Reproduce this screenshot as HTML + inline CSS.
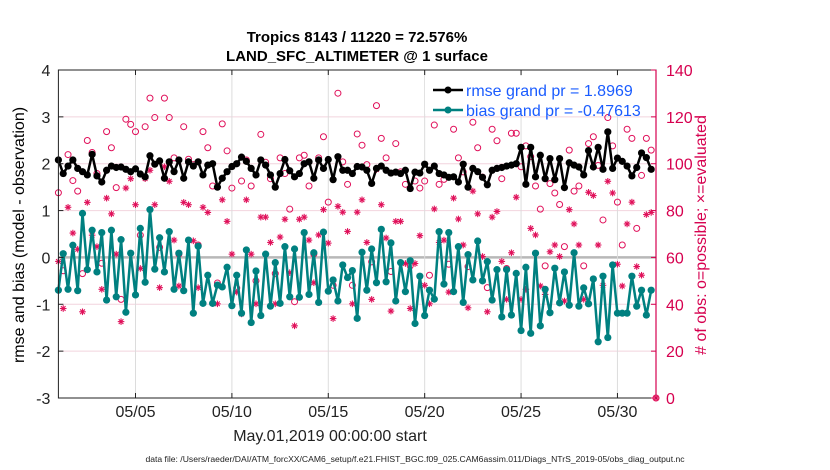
<!DOCTYPE html>
<html><head><meta charset="utf-8"><style>
body{margin:0;background:#fff;}
svg{display:block;font-family:"Liberation Sans",sans-serif;}
</style></head><body>
<svg id="chart" width="830" height="470" viewBox="0 0 830 470">
<rect x="0" y="0" width="830" height="470" fill="#fff"/>
<text x="357" y="42" text-anchor="middle" font-size="15" font-weight="bold">Tropics 8143 / 11220 = 72.576%</text>
<text x="357" y="61" text-anchor="middle" font-size="15" font-weight="bold">LAND_SFC_ALTIMETER @ 1 surface</text>
<text transform="translate(24,235) rotate(-90)" text-anchor="middle" font-size="16">rmse and bias (model - observation)</text>
<text transform="translate(706,235) rotate(-90)" text-anchor="middle" font-size="16" fill="#d6004f"># of obs: o=possible; ×=evaluated</text>
<text x="330" y="441" text-anchor="middle" font-size="16" fill="#222">May.01,2019 00:00:00 start</text>
<text x="415" y="462" text-anchor="middle" font-size="8.6" fill="#222">data file: /Users/raeder/DAI/ATM_forcXX/CAM6_setup/f.e21.FHIST_BGC.f09_025.CAM6assim.011/Diags_NTrS_2019-05/obs_diag_output.nc</text>
<g id="grid"></g>
<g id="obs"></g>
<g id="series"></g>
<g id="axes"></g>
<g>
<rect x="425" y="76" width="228" height="38" fill="#fff"/>
<g>
<line x1="433" y1="90" x2="463" y2="90" stroke="#000" stroke-width="2.5"/><circle cx="448" cy="90" r="3.5" fill="#000"/>
<text x="466" y="96" font-size="16" fill="#1a5cff">rmse grand pr = 1.8969</text></g>
<g>
<line x1="433" y1="110" x2="463" y2="110" stroke="#008080" stroke-width="2.5"/><circle cx="448" cy="110" r="3.5" fill="#008080"/>
<text x="466" y="116" font-size="16" fill="#1a5cff">bias grand pr = -0.47613</text></g>
</g>
</svg>
<script>
const rmse=[2.08,1.79,1.95,2.08,1.9,1.83,1.76,2.2,1.74,1.61,1.86,1.95,1.92,1.93,1.88,1.83,1.89,1.78,1.72,2.17,1.99,2.06,1.69,2.04,1.83,2.08,1.69,2.04,1.95,2.04,1.76,1.97,
2.0,1.5,1.69,1.83,1.94,2.0,2.14,2.05,1.9,1.76,2.08,1.97,1.76,1.5,1.79,2.09,1.85,1.72,1.79,2.0,2.04,1.69,2.08,1.9,2.09,1.66,2.15,1.86,1.86,1.79,1.94,
1.93,1.86,1.58,1.9,1.95,1.86,1.8,1.82,1.79,1.86,1.47,1.82,1.8,1.99,1.86,1.95,1.79,1.76,1.71,1.72,1.61,1.99,1.5,1.9,1.83,1.71,1.55,1.86,1.9,1.92,1.95,
1.97,2.0,2.35,1.56,2.35,1.72,2.18,1.68,2.11,1.66,2.11,1.49,2.02,1.97,1.93,1.76,2.28,1.93,2.35,1.88,2.68,1.9,2.12,2.05,1.95,1.74,1.92,2.23,2.13,1.88];
const bias=[-0.7,0.08,-0.68,0.26,-0.71,0.94,-0.26,0.58,-0.31,0.53,-0.91,0.58,-0.84,0.38,-1.17,0.09,-0.8,0.62,-0.53,1.02,-0.25,0.42,-0.31,0.55,-0.68,0.09,-0.71,0.37,-1.19,0.24,-0.98,-0.38,
-0.98,-0.59,-0.63,-0.21,-1.03,-0.38,-1.19,0.16,-1.39,-0.29,-1.24,0.07,-1.04,-0.11,-0.98,0.23,-0.84,0.18,-0.85,0.53,-0.79,0.1,-0.96,0.54,-0.72,-0.48,-0.93,-0.16,-0.43,-0.28,-1.3,
0.11,-0.7,0.18,-0.54,0.6,-0.52,0.31,-0.93,-0.11,-0.73,-0.07,-1.41,-0.4,-1.24,-0.7,-0.89,0.55,-0.57,0.53,-0.73,0.23,-0.96,0.06,-0.48,0.35,-0.5,-0.09,-0.91,-0.26,-1.27,-0.26,
-1.23,-0.34,-1.56,-0.21,-1.62,0.09,-1.46,-0.68,-1.18,-0.23,-0.97,-0.31,-1.02,0.1,-1.04,-0.65,-0.99,-0.46,-1.8,-0.4,-1.71,-0.16,-1.19,-1.19,-1.19,-0.4,-1.04,-0.7,-1.23,-0.7];
const possible=[87.6,54.3,103.9,92.8,88.3,53.1,109.9,104.8,95.8,57.5,113.7,106.8,89.8,42.1,119,116.8,113.7,69.5,115.8,128,119.7,64.3,128,119.7,102.5,61.4,115.8,101.9,99.6,65.3,113.7,106.8,
90.5,49.1,117,105.5,89.6,46.9,92.6,101.6,90.5,50,112.5,100.6,93.6,53.1,102.5,95.8,80.6,41.1,102.5,103.6,90.5,61.4,102.5,111.5,83.6,48.1,130.1,100.8,91.2,48.1,112.7,
107.9,99.6,58.1,124.8,110.8,102.5,54,108.6,96.5,91.2,56.4,92.6,89.6,92.6,52.4,116.5,91.2,93.3,57.1,114.7,102.5,96.5,56.1,117.7,106.8,94.3,47.1,114.7,109.8,93.6,55.3,
113,113,98.7,107.6,103,90.5,80.6,56.4,91.5,87.5,82.6,64.6,105.8,88.3,90.5,56.4,108.6,111.5,99.3,76,119.7,107.6,83.6,65.3,114.7,110.8,72.4,95,110.8,105.8,0];
const evaluated=[58.3,38.2,81.4,70.4,63.5,36.8,83.5,69.5,64.6,46.4,85.3,78.6,61.4,32.6,89.6,93.6,82.5,55.3,93.6,97.2,82.5,47.1,98.7,92.5,67.4,47.8,83.5,82.5,67.1,47.1,81.4,79.2,
40.4,40.2,84.6,75.4,61.4,45.2,35.9,84.6,61.4,40.2,77.2,77.2,66.4,40.2,68.7,76.3,53.5,30.8,76.3,77.2,67.4,49.2,69.6,80.4,66.1,33.9,81.8,79.3,71.1,40.2,79.3,
84.6,66.4,42.1,97.5,82.5,68.3,37.1,75.4,75.4,57.4,38.2,57.4,69.3,48.1,40.2,80.7,66.4,67.4,45.2,85.3,76.4,65.3,38.5,88.3,78.6,60.4,36.8,77.2,79.6,58.3,42.1,
62,85.7,42.1,46.4,72.4,69.6,47.8,44.2,62.4,65.3,60.4,41.4,80.4,74.3,65.3,42.1,87.8,86.4,65.3,48.1,92.5,87.5,57.1,47.8,74.3,83.6,56.1,52.4,78.3,79.2,0];
const xTickDays=[4,9,14,19,24,29];
const xTickLabels=["05/05","05/10","05/15","05/20","05/25","05/30"];
const yTicks=[4,3,2,1,0,-1,-2,-3];
const y2Ticks=[140,120,100,80,60,40,20,0];

const L=58.4,R=656,T=70,B=398;
const xS=d=>L+d*(R-L)/31;
const yS=v=>T+(4-v)*(B-T)/7;
const y2S=v=>B-v*(B-T)/140;
const NS="http://www.w3.org/2000/svg";
function mk(tag,attrs,parent){const e=document.createElementNS(NS,tag);for(const k in attrs)e.setAttribute(k,attrs[k]);parent.appendChild(e);return e;}
const grid=document.getElementById('grid'),obs=document.getElementById('obs'),ser=document.getElementById('series'),ax=document.getElementById('axes');

yTicks.forEach(v=>{if(v===4||v===-3)return;
 const l=mk('line',{x1:L,x2:R,y1:yS(v),y2:yS(v),stroke:v===0?'#b8b8b8':'#f2d4de','stroke-width':v===0?2.5:1},grid);
 
 });
xTickDays.forEach((d,i)=>{
 const l=mk('line',{x1:xS(d),x2:xS(d),y1:T,y2:B,stroke:'#dcdcdc','stroke-width':1},grid);
 
 
 const t=mk('text',{x:xS(d),y:417,'text-anchor':'middle','font-size':16,fill:'#222'},ax);t.textContent=xTickLabels[i];
 
 
 mk('line',{x1:xS(d),x2:xS(d),y1:B,y2:B-5,stroke:'#222'},ax);
 mk('line',{x1:xS(d),x2:xS(d),y1:T,y2:T+5,stroke:'#222'},ax);});

function star(cx,cy,p){const g=mk('g',{stroke:'#e0105a','stroke-width':1.1},p);
 for(let a=0;a<4;a++){const an=a*Math.PI/4,r=3.3;mk('line',{x1:cx-r*Math.cos(an),y1:cy-r*Math.sin(an),x2:cx+r*Math.cos(an),y2:cy+r*Math.sin(an)},g);}return g;}
possible.forEach((v,i)=>{const c=mk('circle',{cx:xS(i*0.25),cy:y2S(v),r:3,fill:'none',stroke:'#e0105a','stroke-width':1},obs);
 
 });
evaluated.forEach((v,i)=>{const g=star(xS(i*0.25),y2S(v),obs);
 
 });

function line(arr,color,name){
 const pts=arr.map((v,i)=>xS(i*0.25).toFixed(1)+','+yS(v).toFixed(1)).join(' ');
 const pl=mk('polyline',{points:pts,fill:'none',stroke:color,'stroke-width':2.5,'stroke-linejoin':'round'},ser);
 
 
 arr.forEach((v,i)=>{const c=mk('circle',{cx:xS(i*0.25),cy:yS(v),r:3.6,fill:color},ser);
  
  });}
line(rmse,'#000','rmse');
line(bias,'#008080','bias');

const fr=mk('rect',{x:L,y:T,width:R-L,height:B-T,fill:'none',stroke:'#222','stroke-width':1},ax);


const ra=mk('line',{x1:R,x2:R,y1:T,y2:B,stroke:'#d6004f','stroke-width':1.2},ax);


yTicks.forEach(v=>{const t=mk('text',{x:L-8,y:yS(v)+6,'text-anchor':'end','font-size':16,fill:'#222'},ax);t.textContent=v;
 
 
 mk('line',{x1:L,x2:L+5,y1:yS(v),y2:yS(v),stroke:'#222'},ax);});
y2Ticks.forEach(v=>{const t=mk('text',{x:R+10,y:y2S(v)+6,'font-size':16,fill:'#d6004f'},ax);t.textContent=v;
 
 
 mk('line',{x1:R,x2:R-5,y1:y2S(v),y2:y2S(v),stroke:'#d6004f'},ax);});
</script>
</body></html>
